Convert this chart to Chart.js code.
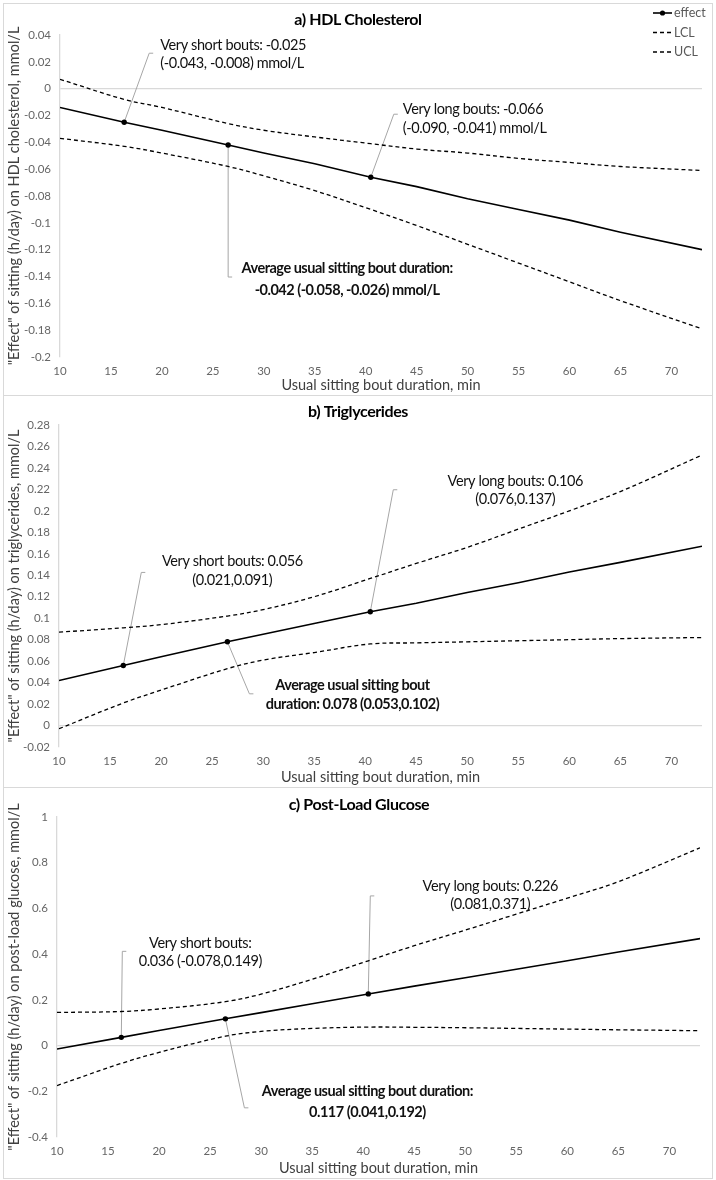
<!DOCTYPE html>
<html>
<head>
<meta charset="utf-8">
<script src="https://cdn.jsdelivr.net/npm/chart.js@4.4.1/dist/chart.umd.min.js"></script>
<style>
  body { margin: 0; background: #fff; width: 716px; height: 1180px; position: relative; overflow: hidden; }
  .panel { position: absolute; left: 3px; width: 710px; border: 1px solid #d9d9d9; box-sizing: border-box; }
  .panel canvas { display: block; }
</style>
</head>
<body>
<div class="panel" style="top:3px;height:393px"><canvas id="chartA" width="708" height="391"></canvas></div>
<div class="panel" style="top:395px;height:393px"><canvas id="chartB" width="708" height="391"></canvas></div>
<div class="panel" style="top:787px;height:392px"><canvas id="chartC" width="708" height="390"></canvas></div>
<script>
// ---- data ----
const boutMinutes = [10, 16.3, 20, 26.5, 30, 35, 40.5, 45, 50, 55, 60, 65, 73];
const markedMinutes = [16.3, 26.5, 40.5];
const xTickValues = [10, 15, 20, 25, 30, 35, 40, 45, 50, 55, 60, 65, 70];

// a) HDL cholesterol
const hdlEffect = [-0.014, -0.025, -0.031, -0.042, -0.048, -0.056, -0.066, -0.073, -0.082, -0.090, -0.098, -0.107, -0.120];
const hdlLCL = [-0.037, -0.043, -0.048, -0.058, -0.065, -0.076, -0.090, -0.102, -0.116, -0.130, -0.144, -0.158, -0.179];
const hdlUCL = [0.007, -0.008, -0.014, -0.026, -0.031, -0.036, -0.041, -0.045, -0.048, -0.052, -0.055, -0.058, -0.061];
const hdlTicks = [-0.2, -0.18, -0.16, -0.14, -0.12, -0.1, -0.08, -0.06, -0.04, -0.02, 0, 0.02, 0.04];

// b) Triglycerides
const tgEffect = [0.042, 0.056, 0.064, 0.078, 0.085, 0.095, 0.106, 0.114, 0.124, 0.133, 0.143, 0.152, 0.167];
const tgLCL = [-0.003, 0.021, 0.033, 0.053, 0.061, 0.068, 0.076, 0.077, 0.078, 0.079, 0.080, 0.081, 0.082];
const tgUCL = [0.087, 0.091, 0.094, 0.102, 0.108, 0.120, 0.137, 0.151, 0.166, 0.183, 0.200, 0.218, 0.252];
const tgTicks = [-0.02, 0, 0.02, 0.04, 0.06, 0.08, 0.1, 0.12, 0.14, 0.16, 0.18, 0.2, 0.22, 0.24, 0.26, 0.28];

// c) Post-load glucose
const glucEffect = [-0.015, 0.036, 0.066, 0.117, 0.144, 0.183, 0.226, 0.260, 0.297, 0.334, 0.371, 0.409, 0.468];
const glucLCL = [-0.175, -0.078, -0.030, 0.041, 0.062, 0.075, 0.081, 0.080, 0.078, 0.075, 0.072, 0.069, 0.065];
const glucUCL = [0.145, 0.149, 0.160, 0.192, 0.225, 0.290, 0.371, 0.437, 0.505, 0.575, 0.645, 0.717, 0.865];
const glucTicks = [-0.4, -0.2, 0, 0.2, 0.4, 0.6, 0.8, 1];

// callout texts
const hdlNotes = [
  ['Very short bouts: -0.025', '(-0.043, -0.008) mmol/L'],
  ['Very long bouts: -0.066', '(-0.090, -0.041) mmol/L'],
  ['Average usual sitting bout duration:', '-0.042 (-0.058, -0.026) mmol/L']
];
const tgNotes = [
  ['Very short bouts: 0.056', '(0.021,0.091)'],
  ['Very long bouts: 0.106', '(0.076,0.137)'],
  ['Average usual sitting bout', 'duration: 0.078 (0.053,0.102)']
];
const glucNotes = [
  ['Very short bouts:', '0.036 (-0.078,0.149)'],
  ['Very long bouts: 0.226', '(0.081,0.371)'],
  ['Average usual sitting bout duration:', '0.117 (0.041,0.192)']
];
const legendLabels = ['effect', 'LCL', 'UCL'];

// ---- drawing ----
const FONT = 'Lato, "Open Sans", sans-serif';
Chart.defaults.font.family = FONT;

function fmt(v) { return String(parseFloat(v.toFixed(2))); }

function decor(p) {
  const anchor = (chart, n) => {
    const { x, y } = chart.scales;
    const i = boutMinutes.indexOf(n.at);
    return [x.getPixelForValue(n.at), y.getPixelForValue(p.effect[i])];
  };
  return {
    id: 'decor',
    beforeDatasetsDraw(chart) {
      const ctx = chart.ctx;
      ctx.save();
      ctx.strokeStyle = '#a6a6a6';
      ctx.lineWidth = 1;
      p.notes.forEach(n => {
        const [px, py] = anchor(chart, n);
        const ex = px + n.lead[0], ey = py + n.lead[1];
        ctx.beginPath();
        ctx.moveTo(px, py);
        ctx.lineTo(ex, ey);
        ctx.lineTo(ex + 4, ey);
        ctx.stroke();
      });
      ctx.restore();
    },
    afterDatasetsDraw(chart) {
      const ctx = chart.ctx;
      ctx.save();
      ctx.textBaseline = 'middle';
      // title
      ctx.fillStyle = '#000';
      ctx.textAlign = 'center';
      ctx.letterSpacing = '-0.4px';
      ctx.font = 'bold 16px ' + FONT;
      ctx.fillText(p.title, p.titlePos[0], p.titlePos[1]);
      // callout labels
      p.notes.forEach((n, k) => {
        const [px, py] = anchor(chart, n);
        ctx.font = (n.bold ? 'bold ' : '') + '14.5px ' + FONT;
        ctx.letterSpacing = n.bold ? '-0.5px' : '-0.4px';
        ctx.textAlign = n.align;
        ctx.fillStyle = '#111';
        p.texts[k].forEach((t, j) => ctx.fillText(t, px + n.txt[0], py + n.txt[1] + j * n.gap));
      });
      ctx.letterSpacing = '0px';
      // legend (panel a only)
      if (p.legend) {
        ctx.font = '12.5px ' + FONT;
        ctx.textAlign = 'left';
        legendLabels.forEach((lab, j) => {
          const ly = 9 + j * 19.5;
          ctx.strokeStyle = '#000';
          ctx.lineWidth = j === 0 ? 1.6 : 1.3;
          ctx.setLineDash(j === 0 ? [] : [4, 3]);
          ctx.beginPath();
          ctx.moveTo(649, ly);
          ctx.lineTo(668, ly);
          ctx.stroke();
          if (j === 0) {
            ctx.fillStyle = '#000';
            ctx.beginPath();
            ctx.arc(658.5, ly, 2.6, 0, Math.PI * 2);
            ctx.fill();
          }
          ctx.fillStyle = '#595959';
          ctx.fillText(lab, 670, ly);
        });
      }
      ctx.restore();
    }
  };
}

function makePanel(id, p) {
  const pts = arr => boutMinutes.map((m, i) => ({ x: m, y: arr[i] }));
  const dashed = (label, arr) => ({
    label, data: pts(arr), borderColor: '#000', borderWidth: 1.3, borderDash: [4, 3],
    pointRadius: 0, tension: 0.35, fill: false
  });
  new Chart(document.getElementById(id), {
    type: 'line',
    data: {
      datasets: [
        {
          label: 'effect', data: pts(p.effect), borderColor: '#000', backgroundColor: '#000',
          borderWidth: 1.6, tension: 0, pointBorderWidth: 0, pointBackgroundColor: '#000',
          pointRadius: boutMinutes.map(m => markedMinutes.includes(m) ? 2.7 : 0)
        },
        dashed('LCL', p.lcl),
        dashed('UCL', p.ucl)
      ]
    },
    options: {
      responsive: false,
      animation: false,
      devicePixelRatio: 1,
      layout: { padding: { top: p.pad.top, right: p.pad.right, bottom: 0, left: 0 } },
      plugins: { legend: { display: false }, tooltip: { enabled: false } },
      scales: {
        x: {
          type: 'linear', min: 10, max: 73,
          afterBuildTicks: s => { s.ticks = xTickValues.map(v => ({ value: v })); },
          afterFit: s => { s.height = p.pad.bottom; },
          grid: { display: false, drawTicks: false },
          border: { display: false },
          ticks: { color: '#666', font: { size: 11.5 }, padding: 7, maxRotation: 0 },
          title: { display: true, text: 'Usual sitting bout duration, min', color: '#404040', font: { size: 14.5 }, padding: { top: 2, bottom: 1 } }
        },
        y: {
          type: 'linear', min: p.ticks[0], max: p.ticks[p.ticks.length - 1],
          afterBuildTicks: s => { s.ticks = p.ticks.map(v => ({ value: v })); },
          afterFit: s => { s.width = p.pad.left; },
          grid: {
            drawTicks: false, lineWidth: 1.3,
            color: c => (c.tick && Math.abs(c.tick.value) < 1e-9) ? '#d9d9d9' : 'rgba(0,0,0,0)'
          },
          border: { color: '#d9d9d9', width: 1.3 },
          ticks: { color: '#666', font: { size: 11.5 }, padding: 9, callback: v => fmt(v) },
          title: { display: true, text: p.yTitle, color: '#404040', font: { size: 14.5 }, padding: { top: 2, bottom: 0 } }
        }
      }
    },
    plugins: [decor(p)]
  });
}

makePanel('chartA', {
  effect: hdlEffect, lcl: hdlLCL, ucl: hdlUCL, ticks: hdlTicks, texts: hdlNotes, legend: true,
  title: 'a) HDL Cholesterol', titlePos: [354, 16],
  yTitle: '"Effect" of sitting (h/day) on HDL cholesterol, mmol/L',
  pad: { top: 31, right: 10, bottom: 38, left: 56 },
  notes: [
    { at: 16.3, lead: [25, -69], txt: [36, -77], gap: 18, align: 'left' },
    { at: 40.5, lead: [23, -63], txt: [32, -68], gap: 19, align: 'left' },
    { at: 26.5, lead: [0, 132], txt: [119, 123], gap: 22, align: 'center', bold: true }
  ]
});

makePanel('chartB', {
  effect: tgEffect, lcl: tgLCL, ucl: tgUCL, ticks: tgTicks, texts: tgNotes,
  title: 'b) Triglycerides', titlePos: [354, 16],
  yTitle: '"Effect" of sitting (h/day) on triglycerides, mmol/L',
  pad: { top: 29, right: 10, bottom: 40, left: 55 },
  notes: [
    { at: 16.3, lead: [18, -93], txt: [109, -104], gap: 19, align: 'center' },
    { at: 40.5, lead: [23, -122], txt: [145, -130], gap: 18, align: 'center' },
    { at: 26.5, lead: [22, 52], txt: [125, 44], gap: 19, align: 'center', bold: true }
  ]
});

makePanel('chartC', {
  effect: glucEffect, lcl: glucLCL, ucl: glucUCL, ticks: glucTicks, texts: glucNotes,
  title: 'c) Post-Load Glucose', titlePos: [355, 17],
  yTitle: '"Effect" of sitting (h/day) on post-load glucose, mmol/L',
  pad: { top: 29, right: 12, bottom: 41, left: 53 },
  notes: [
    { at: 16.3, lead: [1, -86], txt: [79, -94], gap: 18, align: 'center' },
    { at: 40.5, lead: [2, -98], txt: [122, -108], gap: 18, align: 'center' },
    { at: 26.5, lead: [19, 89], txt: [142, 72], gap: 21, align: 'center', bold: true }
  ]
});
</script>
</body>
</html>
